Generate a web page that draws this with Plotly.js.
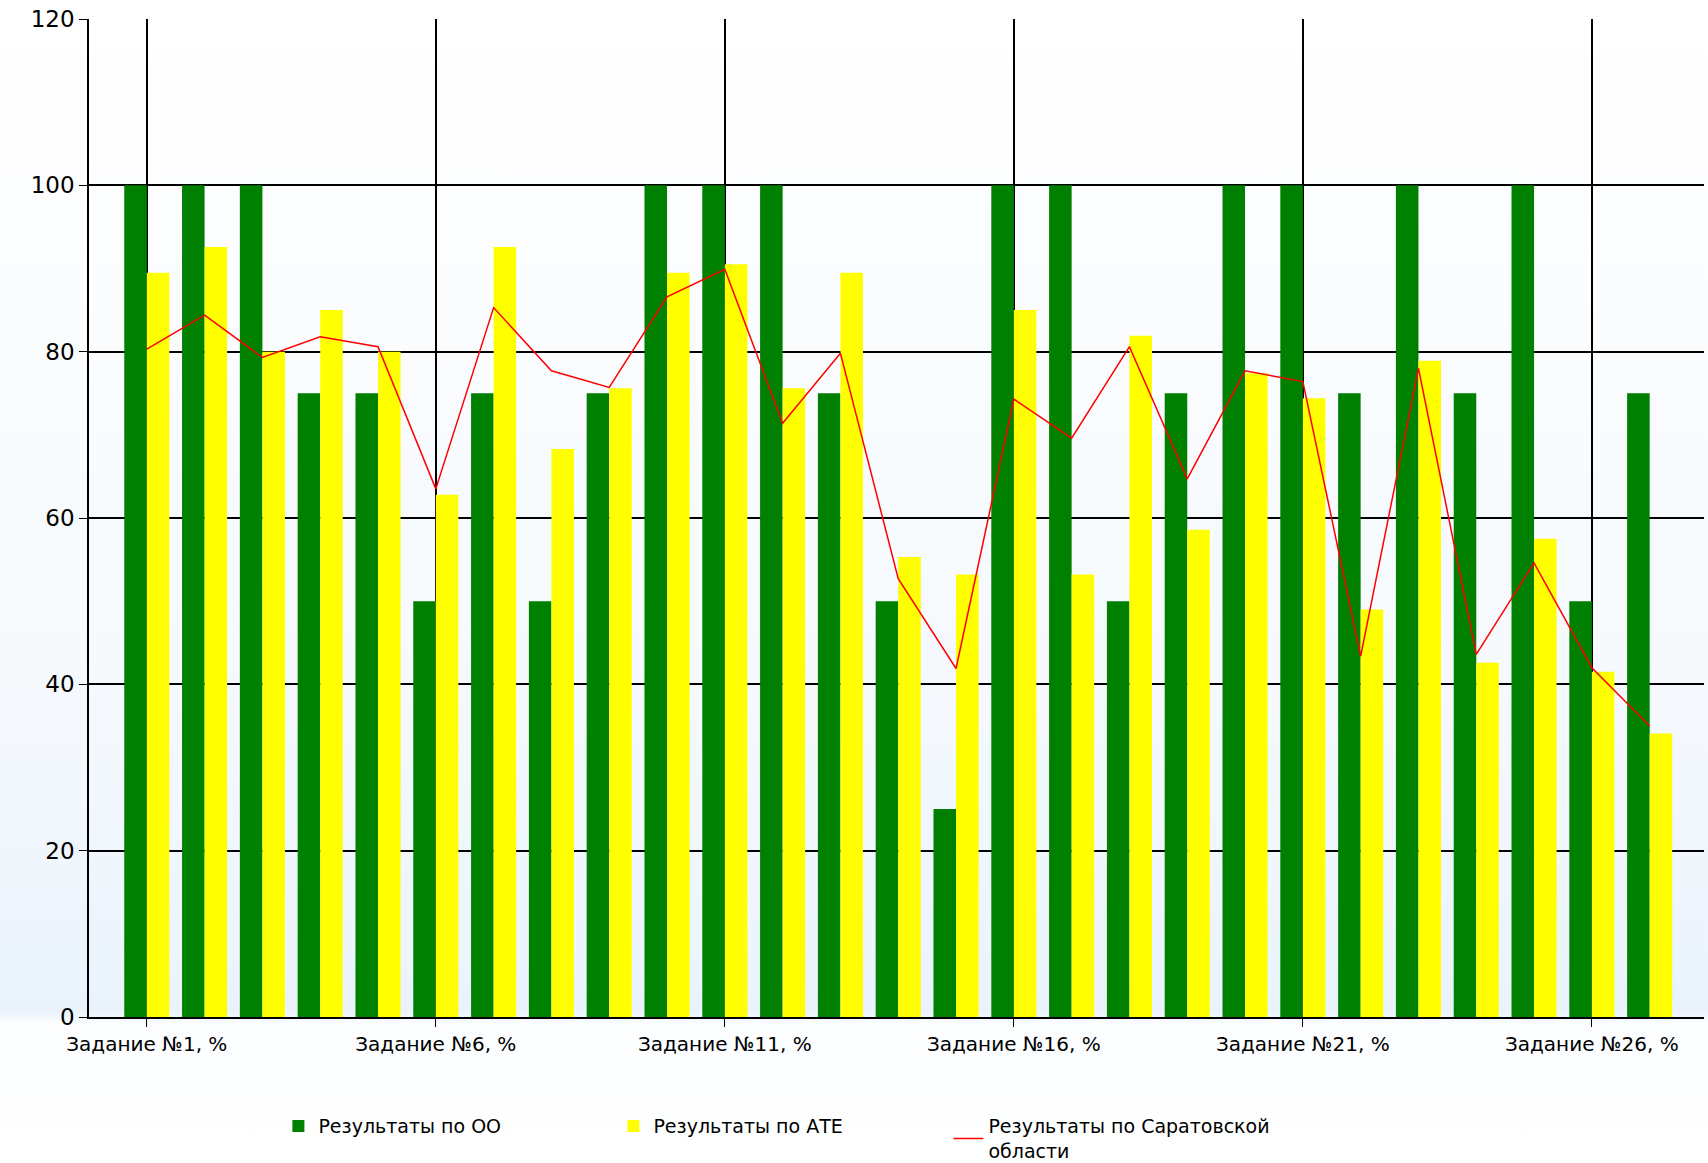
<!DOCTYPE html>
<html>
<head>
<meta charset="utf-8">
<script src="https://cdn.plot.ly/plotly-3.0.1.min.js"></script>
<style>
  body { margin: 0; background: #fff; }
  #chart { width: 1708px; height: 1163px;
    background: linear-gradient(to bottom, #ffffff 0%, #f5f9fd 60%, #eaf3fc 87%, #fbfdff 88%, #ffffff 100%); }
</style>
</head>
<body>
<div id="chart"></div>
<script>
const tasks = [];
for (let i = 1; i <= 27; i++) tasks.push('Задание №' + i + ', %');

const resOO = [100, 100, 100, 75, 75, 50, 75, 50, 75, 100, 100, 100, 75, 50, 25,
  100, 100, 50, 75, 100, 100, 75, 100, 75, 100, 50, 75];
const resATE = [89.5, 92.6, 80, 85, 80, 62.8, 92.6, 68.3, 75.6, 89.5, 90.5, 75.6, 89.5, 55.3, 53.2,
  85, 53.2, 81.9, 58.6, 77.4, 74.4, 49, 78.9, 42.6, 57.5, 41.5, 34.1];
const resRegion = [80.3, 84.4, 79.3, 81.8, 80.6, 63.5, 85.3, 77.7, 75.7, 86.6, 89.9, 71.4, 79.8, 52.7, 41.9,
  74.3, 69.6, 80.6, 64.7, 77.7, 76.4, 43.4, 78, 43.6, 54.6, 42, 35];

const xIdx = tasks.map((t, i) => i);
const tickIdx = [0, 5, 10, 15, 20, 25];

const chartData = [
    { type: 'bar', x: xIdx, y: resOO, name: 'Результаты по ОО', marker: { color: '#008000' } },
    { type: 'bar', x: xIdx, y: resATE, name: 'Результаты по АТЕ', marker: { color: '#ffff00' } },
    { type: 'scatter', mode: 'lines', x: xIdx, y: resRegion,
      name: 'Результаты по Саратовской<br>области', line: { color: '#ff0000', width: 1.5 } }
];

const layout = {
    width: 1708,
    height: 1163,
    margin: { l: 89, r: 4, t: 19, b: 146 },
    paper_bgcolor: 'rgba(0,0,0,0)',
    plot_bgcolor: 'rgba(0,0,0,0)',
    font: { family: 'DejaVu Sans, Arial, sans-serif', size: 16, color: '#000' },
    barmode: 'group',
    bargap: 0.22,
    bargroupgap: 0,
    showlegend: true,
    legend: {
        orientation: 'h', xref: 'container', yref: 'container',
        x: 0.163, xanchor: 'left', y: 0.048, yanchor: 'top',
        entrywidth: 290, entrywidthmode: 'pixels',
        font: { size: 19 }, traceorder: 'normal'
    },
    xaxis: {
        range: [-1, 26.94],
        tickvals: tickIdx,
        ticktext: tickIdx.map(i => tasks[i]),
        ticks: 'outside', ticklen: 8, tickcolor: '#000',
        showgrid: true, gridcolor: '#000', gridwidth: 1.5,
        showline: true, linecolor: '#000', linewidth: 1.5,
        zeroline: false, tickfont: { size: 20 }
    },
    yaxis: {
        range: [0, 120],
        dtick: 20,
        ticks: 'outside', ticklen: 8, tickcolor: '#000',
        showgrid: true, gridcolor: '#000', gridwidth: 1.5,
        showline: true, linecolor: '#000', linewidth: 1.5,
        zeroline: false, tickfont: { size: 23 }
    }
};

Plotly.newPlot('chart', chartData, layout, { displayModeBar: false });
</script>
</body>
</html>
